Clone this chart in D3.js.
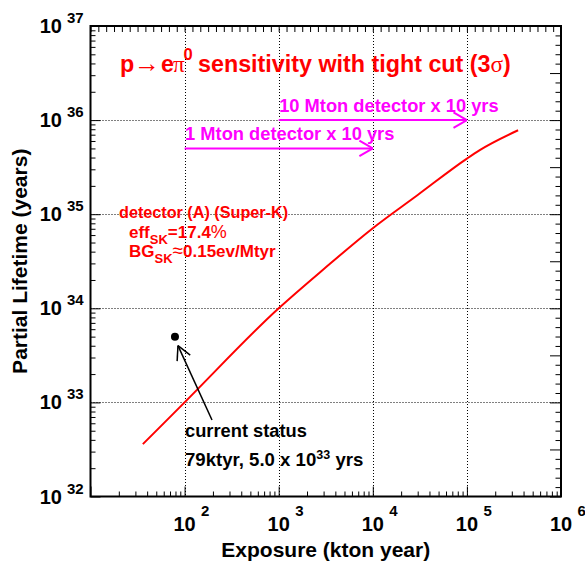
<!DOCTYPE html>
<html><head><meta charset="utf-8">
<script src="https://cdn.jsdelivr.net/npm/d3@7"></script>
<style>
body{margin:0;background:#fff}
svg{display:block}
text{font-family:"Liberation Sans",Arial,sans-serif;font-weight:bold;white-space:pre}
</style>
</head><body><svg id="c" width="585" height="561"></svg>
<script>
// ---- data ----
const exposure = [36, 100, 1000, 3000, 10000, 30000, 100000, 137000, 350000];      // kton year
const lifetime = [3.6e32, 1.0e33, 1.0e34, 2.6e34, 7.1e34, 1.6e35, 3.9e35, 4.8e35, 7.8e35]; // years
const xTickExps = [2, 3, 4, 5, 6];
const yTickExps = [32, 33, 34, 35, 36, 37];
const xGridValues = [1e2, 1e3, 1e4, 1e5];
const yGridValues = [1e33, 1e34, 1e35, 1e36];
const currentExposure = 79, currentLifetime = 5.0e33;
const detectorLabels = ["10 Mton detector x 10 yrs", "1 Mton detector x 10 yrs"];
const detectorFrom = [1e3, 1e2];
const detectorTo = [1e5, 1e4];
const detectorLevel = [1e36, 5e35];

// ---- setup ----
const svg = d3.select("#c");
const L = 90.5, R = 561, T = 26, B = 496.5;
const x = d3.scaleLog().domain([10, 1e6]).range([L, R]);
const y = d3.scaleLog().domain([1e32, 1e37]).range([B, T]);
const RED = "#ff0000", MAG = "#ff00ff";

// grid
const grid = svg.append("g").attr("stroke", "#000").attr("stroke-width", 1).attr("stroke-dasharray", "1,2");
grid.selectAll(".vx").data(xGridValues).join("line")
  .attr("x1", d => Math.round(x(d)) + 0.5).attr("x2", d => Math.round(x(d)) + 0.5)
  .attr("y1", T).attr("y2", B);
grid.selectAll(".hy").data(yGridValues).join("line")
  .attr("y1", d => Math.round(y(d)) + 0.5).attr("y2", d => Math.round(y(d)) + 0.5)
  .attr("x1", L).attr("x2", R);

// ticks via d3 axes
const logMinor = (lo, hi) => { const v = []; for (let e = lo; e < hi; e++) for (let k = 2; k <= 9; k++) v.push(k * Math.pow(10, e)); return v; };
const decades = (lo, hi) => d3.range(lo, hi + 1).map(e => Math.pow(10, e));
function tk(g) { g.select(".domain").remove(); g.selectAll("line").attr("stroke", "#000").attr("stroke-width", 1); g.selectAll("text").remove(); }

svg.append("g").attr("transform", `translate(0,${B})`).call(d3.axisBottom(x).tickValues(decades(1, 6)).tickSize(-10).tickFormat("")).call(tk);
svg.append("g").attr("transform", `translate(0,${B})`).call(d3.axisBottom(x).tickValues(logMinor(1, 6)).tickSize(-5).tickFormat("")).call(tk);
svg.append("g").attr("transform", `translate(${L},0)`).call(d3.axisLeft(y).tickValues(decades(32, 37)).tickSize(-10).tickFormat("")).call(tk);
svg.append("g").attr("transform", `translate(${L},0)`).call(d3.axisLeft(y).tickValues(logMinor(32, 37)).tickSize(-5).tickFormat("")).call(tk);
// top axis: uniform divisions in log space
const topVals = d3.range(0, 61).map(i => Math.pow(10, 1 + i / 12));
svg.append("g").attr("transform", `translate(0,${T})`).call(d3.axisTop(x).tickValues(topVals).tickSize(-6).tickFormat("")).call(tk);
// right axis: 0.1-decade divisions, longer every half decade
const rightAll = d3.range(0, 51).map(i => i);
svg.append("g").attr("transform", `translate(${R},0)`).call(d3.axisRight(y).tickValues(rightAll.filter(i => i % 5 === 0).map(i => Math.pow(10, 32 + i / 10))).tickSize(-11).tickFormat("")).call(tk);
svg.append("g").attr("transform", `translate(${R},0)`).call(d3.axisRight(y).tickValues(rightAll.filter(i => i % 5 !== 0).map(i => Math.pow(10, 32 + i / 10))).tickSize(-5.5).tickFormat("")).call(tk);

// frame
svg.append("rect").attr("x", L).attr("y", T).attr("width", R - L).attr("height", B - T)
  .attr("fill", "none").attr("stroke", "#000").attr("stroke-width", 2);

// tick labels
xTickExps.forEach(e => {
  const px = x(Math.pow(10, e));
  svg.append("text").attr("x", px).attr("y", B + 34.5).attr("text-anchor", "middle").attr("font-size", 20).text("10");
  svg.append("text").attr("x", px + 16.5).attr("y", B + 19.5).attr("font-size", 15).text(String(e));
});
yTickExps.forEach(e => {
  const py = y(Math.pow(10, e));
  svg.append("text").attr("x", 62).attr("y", py + 7).attr("text-anchor", "end").attr("font-size", 20).text("10");
  svg.append("text").attr("x", 67).attr("y", py - 3).attr("font-size", 15).text(String(e));
});

// axis titles
svg.append("text").attr("x", (L + R) / 2).attr("y", 556.5).attr("text-anchor", "middle").attr("font-size", 21).text("Exposure (kton year)");
svg.append("text").attr("transform", `translate(26.5,${(T + B) / 2}) rotate(-90)`).attr("text-anchor", "middle").attr("font-size", 21).text("Partial Lifetime (years)");

// sensitivity curve
const pts = exposure.map((e, i) => [e, lifetime[i]]);
svg.append("path").datum(pts)
  .attr("d", d3.line().x(d => x(d[0])).y(d => y(d[1])).curve(d3.curveMonotoneX))
  .attr("fill", "none").attr("stroke", RED).attr("stroke-width", 2);

// arrowhead helper
function arrow(g, x1, y1, x2, y2, color, w, len, ang) {
  g.append("line").attr("x1", x1).attr("y1", y1).attr("x2", x2).attr("y2", y2).attr("stroke", color).attr("stroke-width", w);
  const a = Math.atan2(y1 - y2, x1 - x2);
  [ang, -ang].forEach(s => {
    g.append("line").attr("x1", x2).attr("y1", y2)
      .attr("x2", x2 + len * Math.cos(a + s)).attr("y2", y2 + len * Math.sin(a + s))
      .attr("stroke", color).attr("stroke-width", w);
  });
}

// detector arrows
detectorLabels.forEach((lab, i) => {
  const yy = y(detectorLevel[i]);
  arrow(svg, x(detectorFrom[i]), yy, x(detectorTo[i]), yy, MAG, 2, 15.5, Math.PI / 6);
  svg.append("text").attr("x", x(detectorFrom[i]) + 0.5).attr("y", yy - 8).attr("font-size", 18.3).attr("fill", MAG).text(lab);
});

// title
const title = svg.append("text").attr("y", 72).attr("font-size", 23.3).attr("fill", RED);
title.append("tspan").attr("x", 120).text("p");
title.append("tspan").attr("x", 134).attr("font-size", 26).text("\u2192");
title.append("tspan").attr("x", 161).attr("font-size", 23.3).text("e");
title.append("tspan").attr("x", 173).attr("font-family", "'Liberation Serif',serif").attr("font-weight", "normal").text("\u03c0");
title.append("tspan").attr("x", 183.5).attr("dy", -12).attr("font-size", 16.5).text("0");
title.append("tspan").attr("x", 198).attr("dy", 12).text("sensitivity with tight cut (3");
title.append("tspan").attr("font-family", "'Liberation Serif',serif").attr("font-weight", "normal").text("\u03c3");
title.append("tspan").text(")");

// detector description
svg.append("text").attr("x", 119).attr("y", 218).attr("font-size", 16.2).attr("fill", RED).text("detector (A) (Super-K)");
const eff = svg.append("text").attr("x", 129).attr("y", 238).attr("font-size", 17).attr("fill", RED);
eff.append("tspan").text("eff");
eff.append("tspan").attr("dy", 6).attr("font-size", 13).text("SK");
eff.append("tspan").attr("dy", -6).text("=17.4");
eff.append("tspan").attr("font-weight", "normal").attr("font-size", 18).text("%");
const bg = svg.append("text").attr("x", 129).attr("y", 257).attr("font-size", 17).attr("fill", RED);
bg.append("tspan").text("BG");
bg.append("tspan").attr("dy", 6).attr("font-size", 13).text("SK");
bg.append("tspan").attr("dy", -6).attr("font-weight", "normal").attr("font-size", 19).text("\u2248");
bg.append("tspan").text("0.15ev/Mtyr");

// current status point
const cx = x(currentExposure), cy = y(currentLifetime);
svg.append("circle").attr("cx", cx).attr("cy", cy).attr("r", 4).attr("fill", "#000");
arrow(svg, 212, 420, cx + 3, cy + 9, "#000", 1.5, 15.5, Math.PI / 6.5);
svg.append("text").attr("x", 185).attr("y", 437).attr("font-size", 18.3).text("current status");
const cs = svg.append("text").attr("x", 185).attr("y", 465.5).attr("font-size", 18.6);
cs.append("tspan").text("79ktyr, 5.0 x 10");
cs.append("tspan").attr("dy", -7).attr("font-size", 12.5).text("33");
cs.append("tspan").attr("dy", 7).text(" yrs");
</script></body></html>
